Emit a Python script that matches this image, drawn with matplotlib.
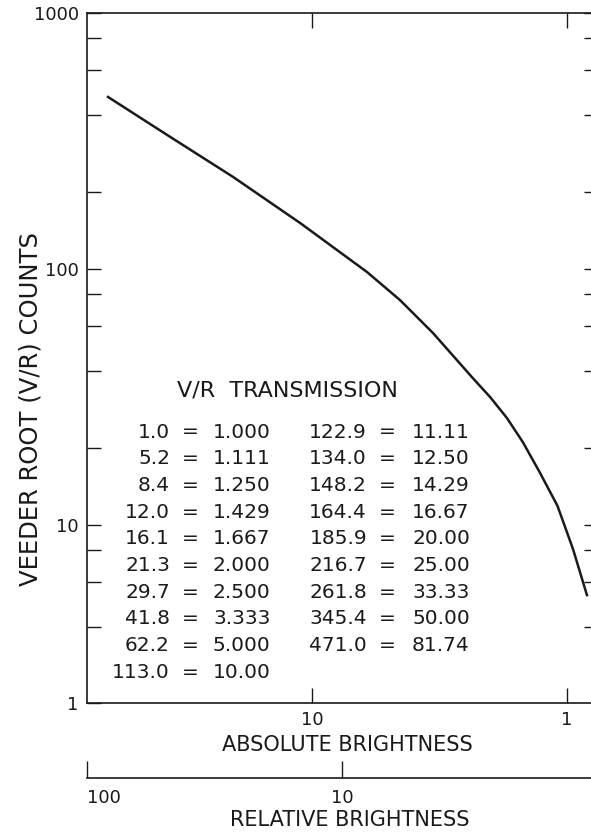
import matplotlib
matplotlib.use("Agg")
import matplotlib.pyplot as plt
from matplotlib.ticker import FixedLocator, FixedFormatter, NullLocator, NullFormatter

# curve: absolute brightness vs Veeder Root counts
abs_brightness = [63.1, 37.0, 20.4, 11.1, 6.08, 4.52, 3.35, 2.34, 2.00, 1.72,
                  1.49, 1.28, 1.09, 1.02, 0.947, 0.835]
vr_counts = [470, 334, 229, 151, 97.3, 75.7, 56.2, 37.5, 31.6, 26.2,
             21.1, 16.1, 11.9, 9.91, 8.06, 5.33]

# V/R transmission table
counts_col1 = ["1.0", "5.2", "8.4", "12.0", "16.1", "21.3", "29.7", "41.8", "62.2", "113.0"]
trans_col1 = ["1.000", "1.111", "1.250", "1.429", "1.667", "2.000", "2.500", "3.333", "5.000", "10.00"]
counts_col2 = ["122.9", "134.0", "148.2", "164.4", "185.9", "216.7", "261.8", "345.4", "471.0"]
trans_col2 = ["11.11", "12.50", "14.29", "16.67", "20.00", "25.00", "33.33", "50.00", "81.74"]

# axis ticks
y_bottom = 2.02
y_ticks = [y_bottom, 10, 100, 1000]
y_tick_labels = ["1", "10", "100", "1000"]
y_minor = [4, 6, 8, 20, 40, 60, 80, 200, 400, 600, 800]
x_ticks = [10, 1]
rel_ticks = [100, 10]
rel_ref = 0.763  # absolute brightness that is relative 100

ink = "#1a1a1a"
plt.rcParams["font.family"] = "DejaVu Sans"

fig = plt.figure(figsize=(5.91, 8.36), dpi=100)
ax = fig.add_axes([87 / 591, 133 / 836, 504 / 591, 690 / 836])

ax.plot(abs_brightness, vr_counts, color=ink, lw=1.8, solid_joinstyle="round")

ax.set_xscale("log")
ax.set_yscale("log")
ax.set_xlim(76.3, 0.805)
ax.set_ylim(y_bottom, 1000)

for s in ["left", "bottom", "top"]:
    ax.spines[s].set_linewidth(1.2)
    ax.spines[s].set_color(ink)
ax.spines["right"].set_visible(False)

# y axis (left) ticks
ax.yaxis.set_major_locator(FixedLocator(y_ticks))
ax.yaxis.set_major_formatter(FixedFormatter(y_tick_labels))
ax.yaxis.set_minor_locator(FixedLocator(y_minor))
ax.yaxis.set_minor_formatter(NullFormatter())
ax.tick_params(axis="y", which="both", direction="in", length=10, width=1.0,
               left=True, right=False, labelsize=13, pad=6, colors=ink)

# x axis ticks, bottom and top
ax.xaxis.set_major_locator(FixedLocator(x_ticks))
ax.xaxis.set_major_formatter(FixedFormatter(["10", "1"]))
ax.xaxis.set_minor_locator(NullLocator())
ax.tick_params(axis="x", which="both", direction="in", length=11, width=1.0,
               top=True, bottom=True, labelsize=13, pad=6, colors=ink)

# short ticks on the right edge
ry = ax.secondary_yaxis("right")
ry.spines["right"].set_visible(False)
ry.yaxis.set_major_locator(FixedLocator(y_ticks[1:]))
ry.yaxis.set_minor_locator(FixedLocator(y_minor))
ry.yaxis.set_major_formatter(NullFormatter())
ry.yaxis.set_minor_formatter(NullFormatter())
ry.tick_params(axis="y", which="both", direction="in", length=5, width=1.0, colors=ink)

# relative brightness scale below
rel = ax.secondary_xaxis(-75 / 690, functions=(lambda b: b / rel_ref, lambda r: r * rel_ref))
rel.spines["bottom"].set_linewidth(1.2)
rel.spines["bottom"].set_color(ink)
rel.xaxis.set_major_locator(FixedLocator(rel_ticks))
rel.xaxis.set_major_formatter(FixedFormatter(["100", "10"]))
rel.xaxis.set_minor_locator(NullLocator())
rel.tick_params(axis="x", which="both", direction="in", length=12, width=1.0,
                labelsize=13, pad=8, colors=ink)

# axis titles
ax.text((347 - 87) / 504, (703 - 745) / 690, "ABSOLUTE BRIGHTNESS", transform=ax.transAxes,
        ha="center", va="center", fontsize=15, color=ink)
ax.text((350 - 87) / 504, (703 - 820) / 690, "RELATIVE BRIGHTNESS", transform=ax.transAxes,
        ha="center", va="center", fontsize=15, color=ink)
ax.text((31 - 87) / 504, (703 - 409) / 690, "VEEDER ROOT (V/R) COUNTS", transform=ax.transAxes,
        ha="center", va="center", rotation=90, fontsize=17.5, color=ink)

# transmission table
ax.text((287 - 87) / 504, (703 - 390) / 690, "V/R  TRANSMISSION", transform=ax.transAxes,
        ha="center", va="center", fontsize=16, color=ink)
row0, row_step = 432, 26.7
for i, (c, t) in enumerate(zip(counts_col1, trans_col1)):
    yy = (703 - (row0 + i * row_step)) / 690
    ax.text((170 - 87) / 504, yy, c, transform=ax.transAxes, ha="right", va="center", fontsize=14.5, color=ink)
    ax.text((190 - 87) / 504, yy, "=", transform=ax.transAxes, ha="center", va="center", fontsize=14.5, color=ink)
    ax.text((213 - 87) / 504, yy, t, transform=ax.transAxes, ha="left", va="center", fontsize=14.5, color=ink)
for i, (c, t) in enumerate(zip(counts_col2, trans_col2)):
    yy = (703 - (row0 + i * row_step)) / 690
    ax.text((367 - 87) / 504, yy, c, transform=ax.transAxes, ha="right", va="center", fontsize=14.5, color=ink)
    ax.text((387 - 87) / 504, yy, "=", transform=ax.transAxes, ha="center", va="center", fontsize=14.5, color=ink)
    ax.text((412 - 87) / 504, yy, t, transform=ax.transAxes, ha="left", va="center", fontsize=14.5, color=ink)

fig.canvas.draw()
rel.get_xticklabels()[0].set_horizontalalignment("left")

fig.savefig("out.png", dpi=100)
